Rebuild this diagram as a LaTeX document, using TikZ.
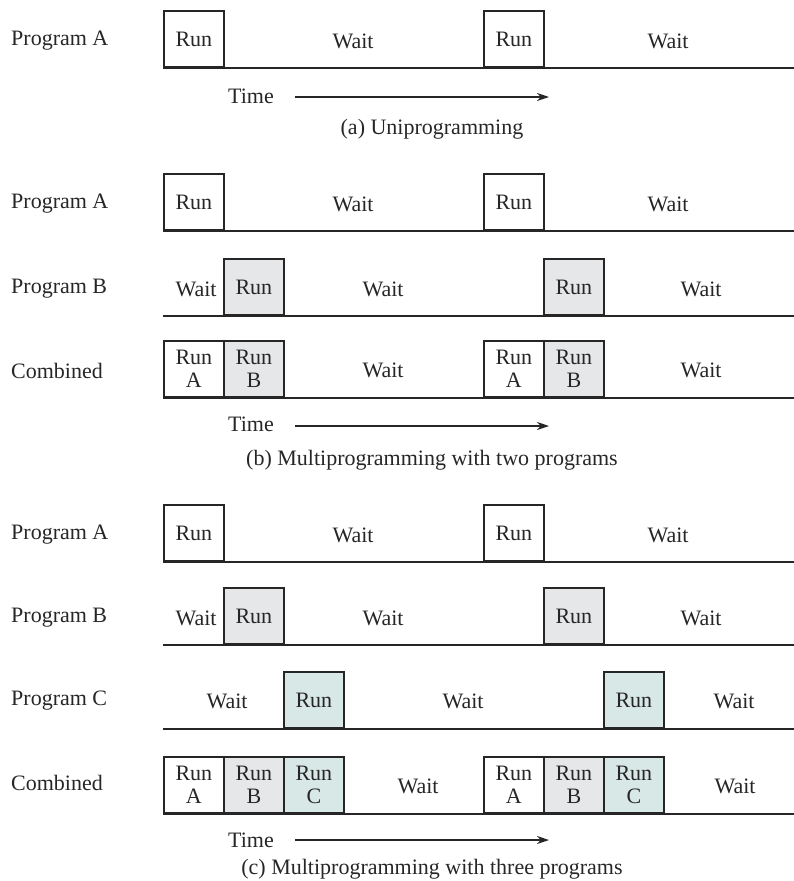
\documentclass[tikz,border=0pt]{standalone}
\usepackage{fontspec}
\setmainfont{Liberation Serif}
\usetikzlibrary{arrows.meta}
\definecolor{runB}{HTML}{E6E7E9}
\definecolor{runC}{HTML}{D8E8E6}
\definecolor{ink}{HTML}{262626}
\begin{document}
\begin{tikzpicture}[x=1pt,y=-1pt,
  every node/.style={font=\fontsize{22}{23}\selectfont, inner sep=0pt, text=ink},
  slot/.style={draw=ink, line width=1.8pt, minimum width=60pt, minimum height=56pt,
               anchor=south west, align=center, fill=white},
  slotB/.style={slot, fill=runB},
  slotC/.style={slot, fill=runC},
  track/.style={draw=ink, line width=1.8pt},
  rowlabel/.style={anchor=west},
  caption/.style={anchor=base},
  timearrow/.style={draw=ink, line width=1.5pt, -{Stealth[length=12pt,width=8pt]}},
]
\useasboundingbox (0,0) rectangle (794,881);

% ---------------- (a) Uniprogramming ----------------
\node[rowlabel] (aLA) at (11,41) {Program A};
\coordinate (aAs) at (163,68); \coordinate (aAe) at (794,68);
\draw[track] (aAs) -- (aAe);
\node[slot] (aA1) at (163,68) {Run};
\node[slot] (aA2) at (483,68) {Run};
\node (aAw1) at (353,41) {Wait};
\node (aAw2) at (668,41) {Wait};
\node (aTime) at (251,96) {Time};
\coordinate (aTend) at (549,97);
\draw[timearrow] ([xshift=21pt]aTime.east |- aTend) -- (aTend);
\node[caption] (aCap) at (432,134) {(a) Uniprogramming};

% ---------------- (b) two programs ----------------
\node[rowlabel] (bLA) at (11,204) {Program A};
\coordinate (bAs) at (163,231); \coordinate (bAe) at (794,231);
\draw[track] (bAs) -- (bAe);
\node[slot] (bA1) at (163,231) {Run};
\node[slot] (bA2) at (483,231) {Run};
\node (bAw1) at (353,204) {Wait};
\node (bAw2) at (668,204) {Wait};

\node[rowlabel] (bLB) at (11,289) {Program B};
\coordinate (bBs) at (163,316); \coordinate (bBe) at (794,316);
\draw[track] (bBs) -- (bBe);
\node[slotB] (bB1) at (223,316) {Run};
\node[slotB] (bB2) at (543,316) {Run};
\node (bBw0) at (196,289) {Wait};
\node (bBw1) at (383,289) {Wait};
\node (bBw2) at (701,289) {Wait};

\node[rowlabel] (bLC) at (11,371) {Combined};
\coordinate (bCs) at (163,398); \coordinate (bCe) at (794,398);
\draw[track] (bCs) -- (bCe);
\node[slot]  (bC1) at (163,398) {Run\\A};
\node[slotB] (bC2) at (223,398) {Run\\B};
\node[slot]  (bC3) at (483,398) {Run\\A};
\node[slotB] (bC4) at (543,398) {Run\\B};
\node (bCw1) at (383,370) {Wait};
\node (bCw2) at (701,370) {Wait};

\node (bTime) at (251,424) {Time};
\coordinate (bTend) at (549,426);
\draw[timearrow] ([xshift=21pt]bTime.east |- bTend) -- (bTend);
\node[caption] (bCap) at (432,465) {(b) Multiprogramming with two programs};

% ---------------- (c) three programs ----------------
\node[rowlabel] (cLA) at (11,535) {Program A};
\coordinate (cAs) at (163,562); \coordinate (cAe) at (794,562);
\draw[track] (cAs) -- (cAe);
\node[slot] (cA1) at (163,562) {Run};
\node[slot] (cA2) at (483,562) {Run};
\node (cAw1) at (353,535) {Wait};
\node (cAw2) at (668,535) {Wait};

\node[rowlabel] (cLB) at (11,618) {Program B};
\coordinate (cBs) at (163,645); \coordinate (cBe) at (794,645);
\draw[track] (cBs) -- (cBe);
\node[slotB] (cB1) at (223,645) {Run};
\node[slotB] (cB2) at (543,645) {Run};
\node (cBw0) at (196,618) {Wait};
\node (cBw1) at (383,618) {Wait};
\node (cBw2) at (701,618) {Wait};

\node[rowlabel] (cLC) at (11,701) {Program C};
\coordinate (cCs) at (163,729); \coordinate (cCe) at (794,729);
\draw[track] (cCs) -- (cCe);
\node[slotC] (cC1) at (283,729) {Run};
\node[slotC] (cC2) at (603,729) {Run};
\node (cCw0) at (227,701) {Wait};
\node (cCw1) at (463,701) {Wait};
\node (cCw2) at (734,701) {Wait};

\node[rowlabel] (cLD) at (11,783) {Combined};
\coordinate (cDs) at (163,814); \coordinate (cDe) at (794,814);
\draw[track] (cDs) -- (cDe);
\node[slot]  (cD1) at (163,814) {Run\\A};
\node[slotB] (cD2) at (223,814) {Run\\B};
\node[slotC] (cD3) at (283,814) {Run\\C};
\node[slot]  (cD4) at (483,814) {Run\\A};
\node[slotB] (cD5) at (543,814) {Run\\B};
\node[slotC] (cD6) at (603,814) {Run\\C};
\node (cDw1) at (418,786) {Wait};
\node (cDw2) at (735,786) {Wait};

\node (cTime) at (251,840) {Time};
\coordinate (cTend) at (549,840);
\draw[timearrow] ([xshift=21pt]cTime.east |- cTend) -- (cTend);
\node[caption] (cCap) at (432,874) {(c) Multiprogramming with three programs};
\end{tikzpicture}
\end{document}
